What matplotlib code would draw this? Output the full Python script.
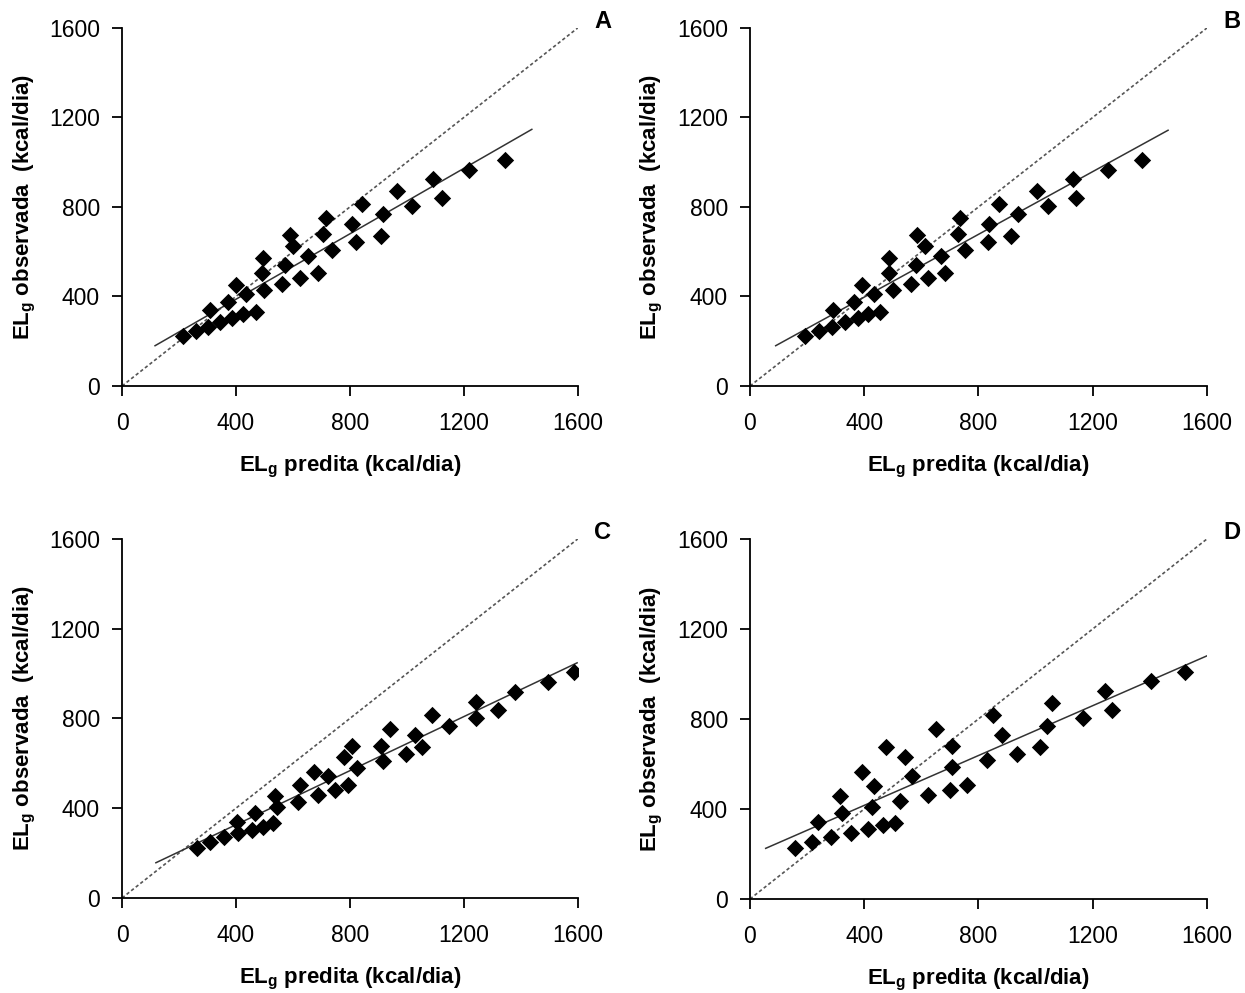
import numpy as np
import matplotlib
matplotlib.use('Agg')
import matplotlib.pyplot as plt

plt.rcParams['font.family'] = ['Liberation Sans', 'DejaVu Sans']
plt.rcParams['mathtext.fontset'] = 'custom'
plt.rcParams['mathtext.rm'] = 'Liberation Sans'
plt.rcParams['mathtext.bf'] = 'Liberation Sans:bold'

# predicted (x) and observed (y) ELg, kcal/dia, one pair of lists per panel
pred_a = [215, 260, 303, 309, 344, 373, 385, 402, 426, 437, 470, 490, 494, 498, 562, 572, 589, 599,
          625, 654, 689, 704, 716, 739, 809, 821, 841, 908, 915, 966, 1020, 1092, 1125, 1219, 1344]
obs_a = [223, 247, 265, 339, 287, 376, 302, 451, 321, 411, 332, 503, 570, 429, 455, 540, 674, 625,
         481, 580, 503, 679, 752, 610, 726, 644, 815, 670, 768, 872, 804, 923, 838, 967, 1009]

pred_b = [193, 242, 288, 292, 333, 365, 377, 391, 414, 435, 455, 487, 487, 502, 564, 580, 584, 613,
          622, 669, 683, 727, 735, 753, 837, 835, 872, 913, 940, 1004, 1042, 1132, 1140, 1255, 1371]
obs_b = [223, 247, 265, 339, 287, 376, 302, 451, 321, 411, 332, 503, 570, 429, 455, 540, 674, 625,
         481, 580, 503, 679, 752, 610, 726, 644, 815, 670, 768, 872, 804, 923, 838, 967, 1009]

pred_c = [264, 309, 358, 405, 408, 455, 467, 496, 529, 537, 543, 619, 625, 674, 689, 724, 747, 779,
          794, 809, 826, 908, 917, 940, 996, 1028, 1055, 1090, 1149, 1242, 1242, 1320, 1379, 1496, 1586]
obs_c = [221, 251, 270, 340, 288, 303, 380, 318, 336, 455, 407, 429, 504, 563, 459, 544, 481, 627,
         504, 677, 578, 677, 612, 752, 642, 726, 671, 815, 766, 801, 875, 838, 919, 964, 1008]

pred_d = [158, 218, 284, 237, 354, 323, 414, 315, 426, 467, 508, 393, 435, 525, 475, 543, 566, 622,
          650, 700, 706, 708, 759, 829, 852, 881, 934, 1015, 1039, 1056, 1167, 1243, 1269, 1404, 1523]
obs_d = [225, 255, 274, 344, 295, 381, 310, 458, 410, 329, 339, 566, 502, 437, 677, 630, 547, 462,
         754, 484, 585, 680, 507, 619, 818, 729, 644, 674, 769, 873, 803, 926, 840, 970, 1010]

# fitted regression lines (start and end points)
trend_a = ([116, 1439], [180, 1147])
trend_b = ([90, 1464], [180, 1143])
trend_c = ([119, 1598], [157, 1048])
trend_d = ([55, 1599], [225, 1080])

ticks = [0, 400, 800, 1200, 1600]

panels = [
    ('A', pred_a, obs_a, trend_a, [0.098, 0.6113, 0.366, 0.3605]),
    ('B', pred_b, obs_b, trend_b, [0.6024, 0.6113, 0.367, 0.3605]),
    ('C', pred_c, obs_c, trend_c, [0.098, 0.0957, 0.366, 0.3615]),
    ('D', pred_d, obs_d, trend_d, [0.6024, 0.0947, 0.367, 0.3625]),
]

tick_font = ['Liberation Sans Narrow', 'Liberation Sans', 'DejaVu Sans']

fig = plt.figure(figsize=(12.45, 9.93), dpi=100)

for letter, px, py, trend, rect in panels:
    ax = fig.add_axes(rect)
    ax.plot([0, 1600], [0, 1600], color='#555555', lw=1.2, ls=(0, (2, 1.5)))
    ax.plot(trend[0], trend[1], color='#333333', lw=1.1)
    ax.scatter(px, py, marker='D', s=78, color='black', zorder=3, linewidths=0)
    ax.set_xlim(0, 1600)
    ax.set_ylim(0, 1600)
    ax.set_xticks(ticks)
    ax.set_yticks(ticks)
    for side in ['top', 'right']:
        ax.spines[side].set_visible(False)
    for side in ['left', 'bottom']:
        ax.spines[side].set_linewidth(1.3)
    ax.tick_params(direction='out', length=7, width=1.3)
    ax.tick_params(axis='x', pad=12)
    ax.tick_params(axis='y', pad=9)
    for lab in ax.get_xticklabels() + ax.get_yticklabels():
        lab.set_fontfamily(tick_font)
        lab.set_fontsize(16.5)
    ax.set_xlabel(r'EL$_{\mathbf{g}}$ predita (kcal/dia)', fontsize=16, fontweight='bold')
    ax.set_ylabel(r'EL$_{\mathbf{g}}$ observada  (kcal/dia)', fontsize=16, fontweight='bold')
    ax.xaxis.set_label_coords(0.5, -0.19)
    ax.yaxis.set_label_coords(-0.185, 0.5)
    ax.text(1.055, 1.017, letter, transform=ax.transAxes, fontsize=17, fontweight='bold',
            ha='center', va='center')

fig.savefig('out.png', dpi=100)
